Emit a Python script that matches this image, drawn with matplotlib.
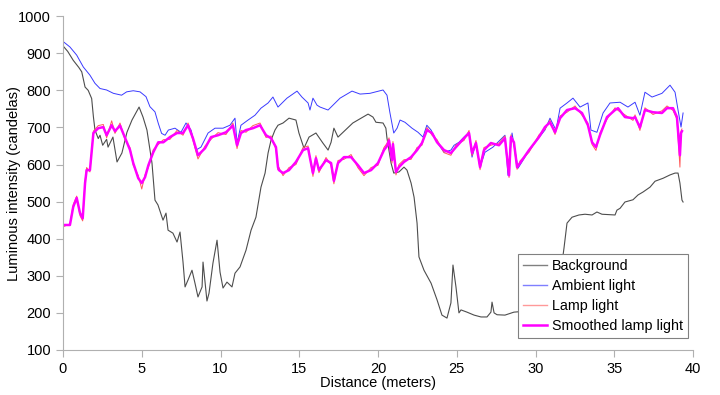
import matplotlib
matplotlib.use("Agg")
import matplotlib.pyplot as plt
from matplotlib.lines import Line2D

plt.rcParams["font.family"] = ["Liberation Sans", "DejaVu Sans"]

# Background (distance in m, intensity in cd)
bg_x = [0, 0.3, 0.65, 1.0, 1.19, 1.4, 1.6, 1.82, 1.93, 2.03, 2.24, 2.35, 2.52, 2.77, 2.86,
        3.17, 3.43, 3.74, 4.06, 4.38, 4.83, 5.08, 5.33, 5.65, 5.84, 6.03, 6.35, 6.54, 6.67,
        6.98, 7.24, 7.43, 7.62, 7.75, 7.94, 8.19, 8.38, 8.57, 8.83, 8.89, 9.14, 9.27, 9.52,
        9.78, 9.97, 10.16, 10.41, 10.73, 10.92, 11.24, 11.62, 11.94, 12.25, 12.57, 12.83,
        13.02, 13.21, 13.46, 13.65, 13.97, 14.35, 14.79, 14.98, 15.3, 15.62, 16.06, 16.5,
        16.83, 17.02, 17.2, 17.46, 17.78, 18.4, 19.05, 19.37, 19.68, 19.87, 20.32, 20.5,
        20.57, 20.83, 21.0, 21.33, 21.65, 21.84, 22.1, 22.29, 22.48, 22.6, 22.92, 23.37,
        23.75, 24.06, 24.38, 24.63, 24.76, 24.95, 25.14, 25.27, 25.65, 26.1, 26.54, 26.92,
        27.17, 27.24, 27.37, 27.56, 28.06, 28.63, 29.5, 30.5, 31.3, 31.7, 31.81, 32.0, 32.32,
        32.76, 33.14, 33.59, 33.9, 34.22, 35.05, 35.17, 35.37, 35.68, 36.19, 36.51, 36.83,
        37.27, 37.59, 38.1, 38.54, 38.86, 39.05, 39.17, 39.3, 39.37]
bg_y = [920, 905, 881, 862, 850, 809, 800, 778, 729, 693, 670, 679, 652, 668, 647,
        674, 607, 631, 687, 720, 755, 728, 693, 604, 504, 491, 450, 469, 423,
        415, 391, 418, 337, 270, 289, 315, 280, 243, 270, 337, 232, 253, 334,
        396, 310, 267, 283, 270, 307, 324, 369, 423, 458, 539, 577,
        631, 666, 693, 706, 712, 725, 720, 685, 644, 674, 685, 658,
        639, 660, 698, 674, 687, 712, 728, 736, 728, 714, 712, 698,
        671, 604, 577, 580, 593, 585, 550, 512, 442, 351, 315, 280,
        235, 194, 186, 227, 329, 270, 200, 208, 202, 194, 189, 189,
        202, 229, 200, 195, 194, 202, 205, 215, 260, 340, 375, 442, 458,
        464, 466, 464, 472, 466, 464, 477, 482, 499, 505, 518, 526,
        539, 555, 563, 572, 577, 577, 550, 504, 499]

# Ambient light
amb_x = [0, 0.44, 0.87, 1.29, 1.71, 2.03, 2.35, 2.77, 3.2, 3.72, 4.04, 4.46, 4.89, 5.27,
         5.52, 5.84, 6.05, 6.26, 6.48, 6.69, 7.11, 7.49, 7.81, 8.13, 8.44, 8.76, 9.21, 9.65,
         10.16, 10.6, 10.92, 11.05, 11.3, 11.75, 12.19, 12.57, 13.02, 13.33, 13.65, 14.22,
         14.86, 15.17, 15.56, 15.68, 15.87, 16.13, 16.32, 16.83, 17.59, 18.35, 18.86, 19.49,
         20.32, 20.57, 20.76, 21.0, 21.21, 21.4, 21.71, 22.16, 22.54, 22.86, 23.1, 23.37,
         23.75, 24.19, 24.63, 24.83, 25.14, 25.46, 25.78, 25.97, 26.22, 26.48, 26.79, 27.3,
         28.06, 28.25, 28.51, 28.89, 29.52, 30.1, 30.6, 30.92, 31.3, 31.56, 32.0, 32.38,
         32.83, 33.33, 33.52, 33.9, 34.29, 34.73, 35.37, 35.87, 36.32, 36.63, 36.95, 37.4,
         38.03, 38.54, 38.86, 39.05, 39.24, 39.37]
amb_y = [932, 917, 895, 863, 841, 819, 805, 801, 792, 787, 796, 799, 796, 783,
         756, 742, 711, 684, 679, 693, 698, 687, 712, 693, 639, 647, 685, 698,
         698, 706, 725, 658, 706, 720, 733, 752, 766, 782, 755, 779,
         798, 782, 766, 747, 779, 760, 755, 747, 779, 798, 790, 792,
         801, 787, 739, 685, 698, 720, 714, 698, 687, 674, 706, 693,
         660, 633, 639, 652, 660, 674, 687, 620, 658, 593, 633, 647,
         679, 571, 685, 590, 633, 666, 693, 725, 693, 752, 766, 779,
         755, 766, 693, 687, 739, 766, 768, 755, 768, 733, 795, 782,
         792, 814, 795, 747, 701, 739]

# Lamp light (raw) and smoothed lamp light, same distances
lamp_x = [0, 0.44, 0.65, 0.87, 1.08, 1.25, 1.4, 1.5, 1.71, 1.93, 2.24, 2.56, 2.77, 3.09,
          3.3, 3.62, 3.94, 4.25, 4.46, 4.78, 5.0, 5.21, 5.42, 5.73, 6.05, 6.37, 6.79, 7.24,
          7.62, 7.94, 8.25, 8.57, 9.02, 9.4, 9.84, 10.35, 10.79, 11.05, 11.3, 11.62, 12.06,
          12.51, 12.89, 13.21, 13.52, 13.65, 13.71, 13.97, 14.35, 14.79, 15.24, 15.56, 15.87,
          16.06, 16.25, 16.7, 17.02, 17.2, 17.46, 17.84, 18.29, 18.73, 19.11, 19.56, 20.0,
          20.38, 20.57, 20.7, 20.89, 20.95, 21.14, 21.33, 21.65, 22.1, 22.48, 22.79, 23.11,
          23.43, 23.75, 24.19, 24.63, 24.95, 25.46, 25.78, 25.97, 26.22, 26.48, 26.73, 27.17,
          27.68, 28.06, 28.32, 28.44, 28.63, 28.83, 29.02, 29.59, 30.22, 30.6, 30.92, 31.24,
          31.56, 32.0, 32.51, 32.95, 33.33, 33.59, 33.84, 34.1, 34.54, 35.05, 35.24, 35.68,
          36.19, 36.32, 36.63, 36.95, 37.46, 38.03, 38.35, 38.73, 38.98, 39.17, 39.24, 39.3]
lamp_y = [432, 440, 492, 515, 462, 448, 556, 592, 580, 690, 705, 708, 672, 718,
          684, 712, 666, 646, 598, 570, 534, 572, 592, 640, 654, 667, 668, 692,
          679, 712, 665, 615, 650, 668, 686, 681, 712, 643, 692, 687, 705,
          712, 673, 677, 641, 586, 592, 570, 592, 600, 646, 650, 568,
          624, 578, 619, 598, 548, 611, 614, 627, 591, 570, 592, 598,
          646, 657, 672, 604, 662, 572, 600, 613, 614, 646, 652, 700,
          679, 667, 632, 625, 653, 665, 692, 624, 665, 586, 646, 652,
          658, 677, 565, 680, 654, 587, 610, 633, 680, 695, 720, 681,
          731, 741, 758, 733, 712, 654, 638, 686, 722, 753, 746, 734,
          719, 734, 692, 753, 735, 745, 758, 746, 722, 593, 690, 696]
smooth_y = [437, 437, 486, 510, 469, 455, 550, 585, 585, 685, 698, 701, 679, 706,
            690, 705, 672, 640, 604, 563, 550, 566, 598, 633, 660, 660, 674, 685,
            685, 706, 671, 625, 644, 674, 679, 687, 705, 652, 685, 693, 698,
            706, 679, 671, 647, 593, 585, 577, 585, 607, 639, 644, 577,
            617, 585, 612, 604, 556, 604, 620, 620, 598, 577, 585, 604,
            639, 650, 665, 612, 655, 580, 593, 607, 620, 639, 658, 693,
            685, 660, 639, 631, 647, 671, 685, 631, 658, 593, 639, 658,
            652, 671, 571, 674, 660, 593, 604, 639, 674, 701, 714, 687,
            725, 747, 752, 739, 706, 660, 647, 680, 728, 747, 752, 728,
            725, 728, 700, 747, 741, 739, 752, 752, 728, 625, 685, 690]

labels = ["Background", "Ambient light", "Lamp light", "Smoothed lamp light"]

fig = plt.figure(figsize=(7.2, 3.95), dpi=100)
ax = fig.add_axes([0.0875, 0.114, 0.875, 0.845])

ax.plot(bg_x, bg_y, color="#4d4d4d", lw=0.8)
ax.plot(amb_x, amb_y, color="#3a3aff", lw=0.7)
ax.plot(lamp_x, lamp_y, color="#ff5a5a", lw=0.7)
ax.plot(lamp_x, smooth_y, color="#ff00ff", lw=1.8)

ax.set_xlim(0, 40)
ax.set_ylim(100, 1000)
ax.set_xticks(range(0, 41, 5))
ax.set_yticks(range(100, 1001, 100))
ax.set_xlabel("Distance (meters)", fontsize=10.5, labelpad=0)
ax.set_ylabel("Luminous intensity (candelas)", fontsize=10.5, labelpad=-2)

for side in ["top", "right"]:
    ax.spines[side].set_visible(False)
for side in ["left", "bottom"]:
    ax.spines[side].set_color("#b0b0b0")
ax.tick_params(direction="out", length=5, color="#b0b0b0", labelsize=10.5, labelcolor="black")

# legend swatches are drawn lighter than the plotted lines, as in the original
handles = [
    Line2D([], [], color="#808080", lw=1.0),
    Line2D([], [], color="#7f7fff", lw=1.0),
    Line2D([], [], color="#ff9999", lw=1.0),
    Line2D([], [], color="#ff00ff", lw=1.8),
]
leg = ax.legend(handles, labels, loc="lower right", bbox_to_anchor=(0.992, 0.036),
                borderaxespad=0, fontsize=10.3, fancybox=False, framealpha=1,
                edgecolor="#808080", handlelength=1.7, borderpad=0.35,
                labelspacing=0.42, handletextpad=0.35)
leg.get_frame().set_linewidth(0.8)

fig.savefig("out.png", dpi=100)
